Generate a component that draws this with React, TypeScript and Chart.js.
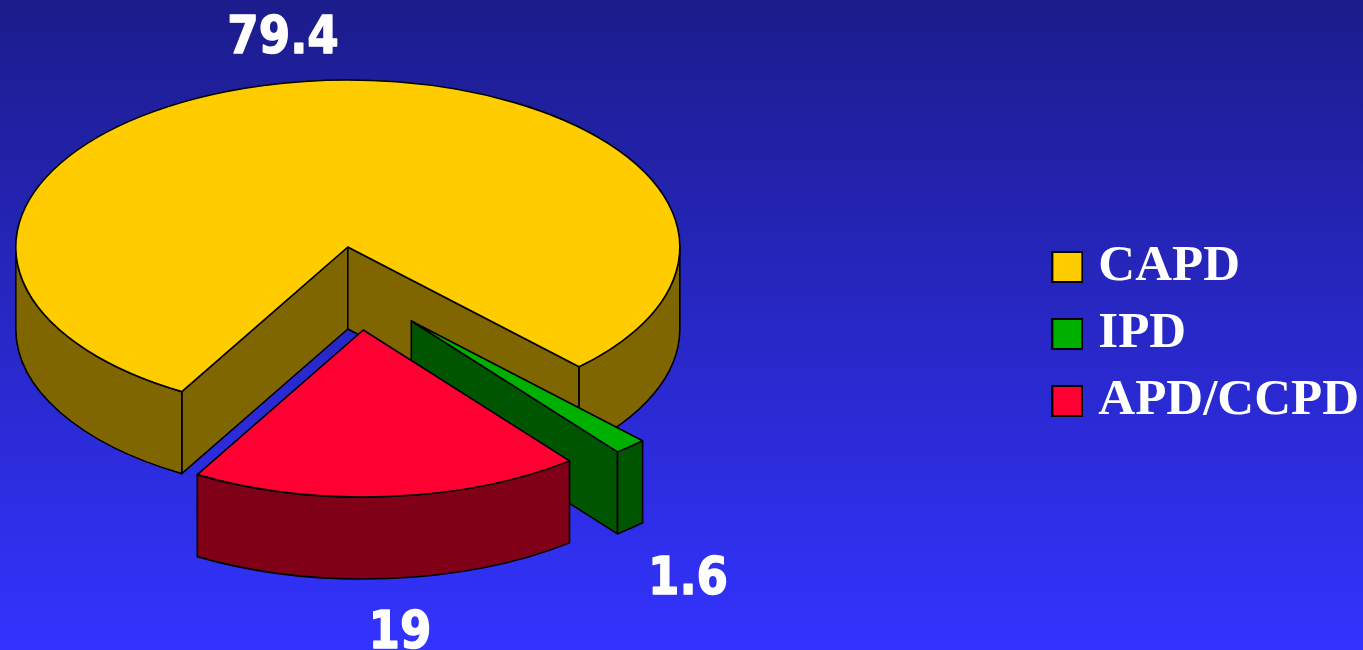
import React, { useEffect, useRef } from "react";
import { Chart, registerables } from "chart.js";

Chart.register(...registerables);

const categories = ["CAPD", "IPD", "APD/CCPD"];
const shares = [79.4, 1.6, 19];
const valueLabels = ["79.4", "1.6", "19"];

const topColors = ["#ffcc00", "#00b000", "#ff0033"];
const sideColors = ["#806600", "#005500", "#800018"];
const sliceShift = [[0, 0], [63.5, 74], [15.5, 83]];
const labelAnchor = [[283, 39], [688, 580], [400, 634]];

const PIE = { cx: 347.8, cy: 247, rx: 332, ry: 167, depth: 82 };
const FONT_STACK = '"DejaVu Sans", Verdana, sans-serif';
const TAU = Math.PI * 2;

function swatch(color: string) {
  const c = document.createElement("canvas");
  c.width = 32;
  c.height = 32;
  const g = c.getContext("2d") as CanvasRenderingContext2D;
  g.fillStyle = color;
  g.fillRect(1, 1, 30, 30);
  g.strokeStyle = "#000";
  g.lineWidth = 2;
  g.strokeRect(1, 1, 30, 30);
  return c;
}

const pie3d = {
  id: "pie3d",
  beforeDraw(chart: any) {
    const { ctx, width, height } = chart;
    const g = ctx.createLinearGradient(0, 0, 0, height);
    g.addColorStop(0, "#1c1c8c");
    g.addColorStop(1, "#3333ff");
    ctx.save();
    ctx.fillStyle = g;
    ctx.fillRect(0, 0, width, height);
    ctx.restore();
  },
  beforeDatasetsDraw(chart: any) {
    const ctx: CanvasRenderingContext2D = chart.ctx;
    const arcs = chart.getDatasetMeta(0).data;
    const { rx, ry, depth } = PIE;
    ctx.save();
    ctx.lineJoin = "round";
    ctx.strokeStyle = "#000";
    ctx.lineWidth = 1.6;
    [0, 1, 2].forEach((i) => {
      const arc = arcs[i];
      const cx = PIE.cx + sliceShift[i][0];
      const cy = PIE.cy + sliceShift[i][1];
      const a0 = arc.startAngle;
      const a1 = arc.endAngle;
      ctx.fillStyle = sideColors[i];

      const cutWall = (t: number) => {
        const px = cx + rx * Math.cos(t);
        const py = cy + ry * Math.sin(t);
        ctx.beginPath();
        ctx.moveTo(cx, cy);
        ctx.lineTo(px, py);
        ctx.lineTo(px, py + depth);
        ctx.lineTo(cx, cy + depth);
        ctx.closePath();
        ctx.fill();
        ctx.stroke();
      };
      if (Math.cos(a0) < 0) cutWall(a0);
      if (Math.cos(a1) > 0) cutWall(a1);

      for (let k = -1; k <= 2; k++) {
        const lo = Math.max(a0, k * TAU);
        const hi = Math.min(a1, k * TAU + Math.PI);
        if (hi <= lo) continue;
        ctx.beginPath();
        ctx.ellipse(cx, cy, rx, ry, 0, lo, hi);
        ctx.ellipse(cx, cy + depth, rx, ry, 0, hi, lo, true);
        ctx.closePath();
        ctx.fill();
        ctx.stroke();
      }

      ctx.save();
      ctx.translate(cx, cy);
      ctx.scale(rx / arc.outerRadius, ry / arc.outerRadius);
      ctx.translate(-arc.x, -arc.y);
      arc.draw(ctx);
      ctx.restore();

      ctx.beginPath();
      ctx.moveTo(cx, cy);
      ctx.ellipse(cx, cy, rx, ry, 0, a0, a1);
      ctx.closePath();
      ctx.stroke();
    });
    ctx.restore();
    return false;
  },
  afterDraw(chart: any) {
    const ctx: CanvasRenderingContext2D = chart.ctx;
    ctx.save();
    ctx.fillStyle = "#fff";
    ctx.strokeStyle = "#fff";
    ctx.lineWidth = 1.4;
    ctx.lineJoin = "round";
    ctx.font = `bold 52px ${FONT_STACK}`;
    ctx.textAlign = "center";
    ctx.textBaseline = "middle";
    valueLabels.forEach((t, i) => {
      ctx.save();
      ctx.translate(labelAnchor[i][0], labelAnchor[i][1]);
      ctx.scale(0.87, 1);
      ctx.fillText(t, 0, 0);
      ctx.strokeText(t, 0, 0);
      ctx.restore();
    });
    ctx.restore();
  },
};

export default function App() {
  const ref = useRef<HTMLCanvasElement>(null);
  useEffect(() => {
    const swatches = topColors.map(swatch);
    const chart = new Chart(ref.current as HTMLCanvasElement, {
      type: "pie",
      data: {
        labels: categories,
        datasets: [{ data: shares, backgroundColor: topColors, borderWidth: 0 }],
      },
      options: {
        responsive: false,
        animation: false,
        rotation: 210,
        layout: { padding: { top: 18, right: -6 } },
        plugins: {
          tooltip: { enabled: false },
          title: { display: false },
          legend: {
            display: true,
            position: "right",
            align: "center",
            onClick: () => {},
            labels: {
              color: "#fff",
              usePointStyle: true,
              pointStyleWidth: 11,
              boxHeight: 30,
              padding: 16,
              font: { family: '"Liberation Serif", "Times New Roman", serif', size: 51, weight: "bold", lineHeight: 1.15 },
              generateLabels(c: any) {
                return (Chart as any).overrides.pie.plugins.legend.labels
                  .generateLabels(c)
                  .map((l: any, i: number) => ({ ...l, pointStyle: swatches[i] }));
              },
            },
          },
        },
      },
      plugins: [pie3d],
    } as any);
    return () => chart.destroy();
  }, []);
  return (
    <div style={{ position: "fixed", left: 0, top: 0, width: 1363, height: 650 }}>
      <canvas ref={ref} width={1363} height={650} style={{ display: "block" }} />
    </div>
  );
}
